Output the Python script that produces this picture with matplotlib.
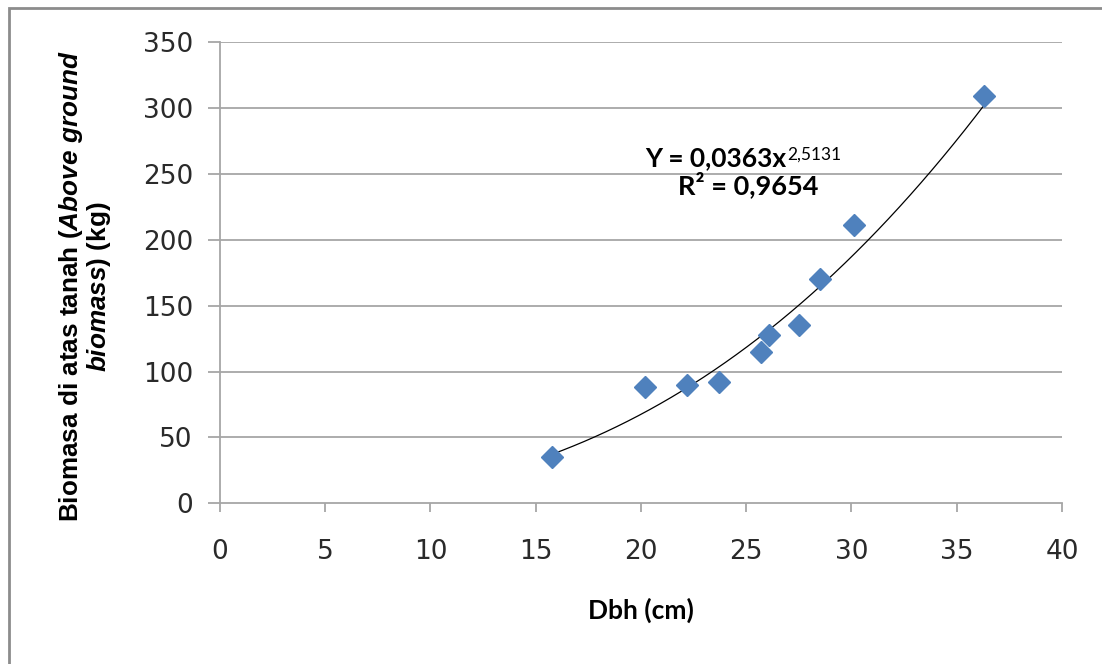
import numpy as np
import matplotlib
matplotlib.use("Agg")
import matplotlib.pyplot as plt
from matplotlib.patches import Rectangle

# data
dbh = [15.75, 20.2, 22.2, 23.7, 25.7, 26.1, 27.5, 28.5, 30.1, 36.3]
biomass = [35, 88, 90, 92, 115, 128, 135, 170, 211, 309]
coef_a = 0.0363
coef_b = 2.5131
eq_text = "Y = 0,0363x"
eq_power = "2,5131"
r2_text = "R\u00b2 = 0,9654"
x_ticks = [0, 5, 10, 15, 20, 25, 30, 35, 40]
y_ticks = [0, 50, 100, 150, 200, 250, 300, 350]

plt.rcParams["mathtext.fontset"] = "custom"
plt.rcParams["mathtext.it"] = "Liberation Sans:italic:bold"
plt.rcParams["mathtext.rm"] = "Liberation Sans:bold"

fig = plt.figure(figsize=(11.02, 6.64), dpi=100)
ax = fig.add_axes([0.1996, 0.242, 0.7641, 0.6947])

grid_col = "#a6a6a6"
for yv in y_ticks[1:]:
    ax.axhline(yv, color=grid_col, lw=1.3, zorder=1)

# power trendline
xs = np.linspace(min(dbh), max(dbh), 200)
ax.plot(xs, coef_a * xs ** coef_b, color="black", lw=0.9, zorder=2)

ax.plot(dbh, biomass, linestyle="none", marker="D", markersize=11.5,
        color="#4f81bd", markeredgecolor="#4f81bd", zorder=3)

ax.set_xlim(0, 40)
ax.set_ylim(0, 350)
ax.set_xticks(x_ticks)
ax.set_yticks(y_ticks)

for side in ["top", "right"]:
    ax.spines[side].set_visible(False)
for side in ["left", "bottom"]:
    ax.spines[side].set_color(grid_col)
    ax.spines[side].set_linewidth(1.3)

ax.tick_params(axis="y", direction="out", length=8.5, width=1.3, color=grid_col,
               pad=11, labelsize=19, labelcolor="#2a2a2a")
ax.tick_params(axis="x", direction="out", length=6.5, width=1.3, color=grid_col,
               pad=19, labelsize=19, labelcolor="#2a2a2a")
for lab in ax.get_xticklabels() + ax.get_yticklabels():
    lab.set_fontfamily("DejaVu Sans")

ax.set_xlabel("Dbh (cm)", fontfamily="Lato", fontweight="bold", fontsize=19,
              labelpad=24)
ax.set_ylabel("Biomasa di atas tanah ($\\mathit{Above\\ ground}$\n$\\mathit{biomass}$) (kg)",
              fontfamily="Liberation Sans", fontweight="bold", fontsize=18.8,
              linespacing=0.98)
ax.yaxis.set_label_coords(-0.127, 0.47)

# trendline label
t = ax.text(26.9, 255.8, eq_text, ha="right", va="baseline", fontfamily="Lato",
            fontweight="bold", fontsize=19, color="black", zorder=4)
ax.annotate(eq_power, xy=(1, 1), xycoords=t, xytext=(1, 0), textcoords="offset points",
            ha="left", va="top", fontfamily="Lato", fontsize=12.5, color="black")
ax.text(25.08, 234.6, r2_text, ha="center", va="baseline", fontfamily="Lato",
        fontweight="bold", fontsize=19.5, color="black", zorder=4)

# outer chart border
fig.patches.append(Rectangle((9 / 1102, -0.05), 1.2, 1 - 8 / 664 + 0.05,
                             transform=fig.transFigure, fill=False,
                             edgecolor="#8c8c8c", lw=2, zorder=0))

fig.savefig("out.png", dpi=100)
